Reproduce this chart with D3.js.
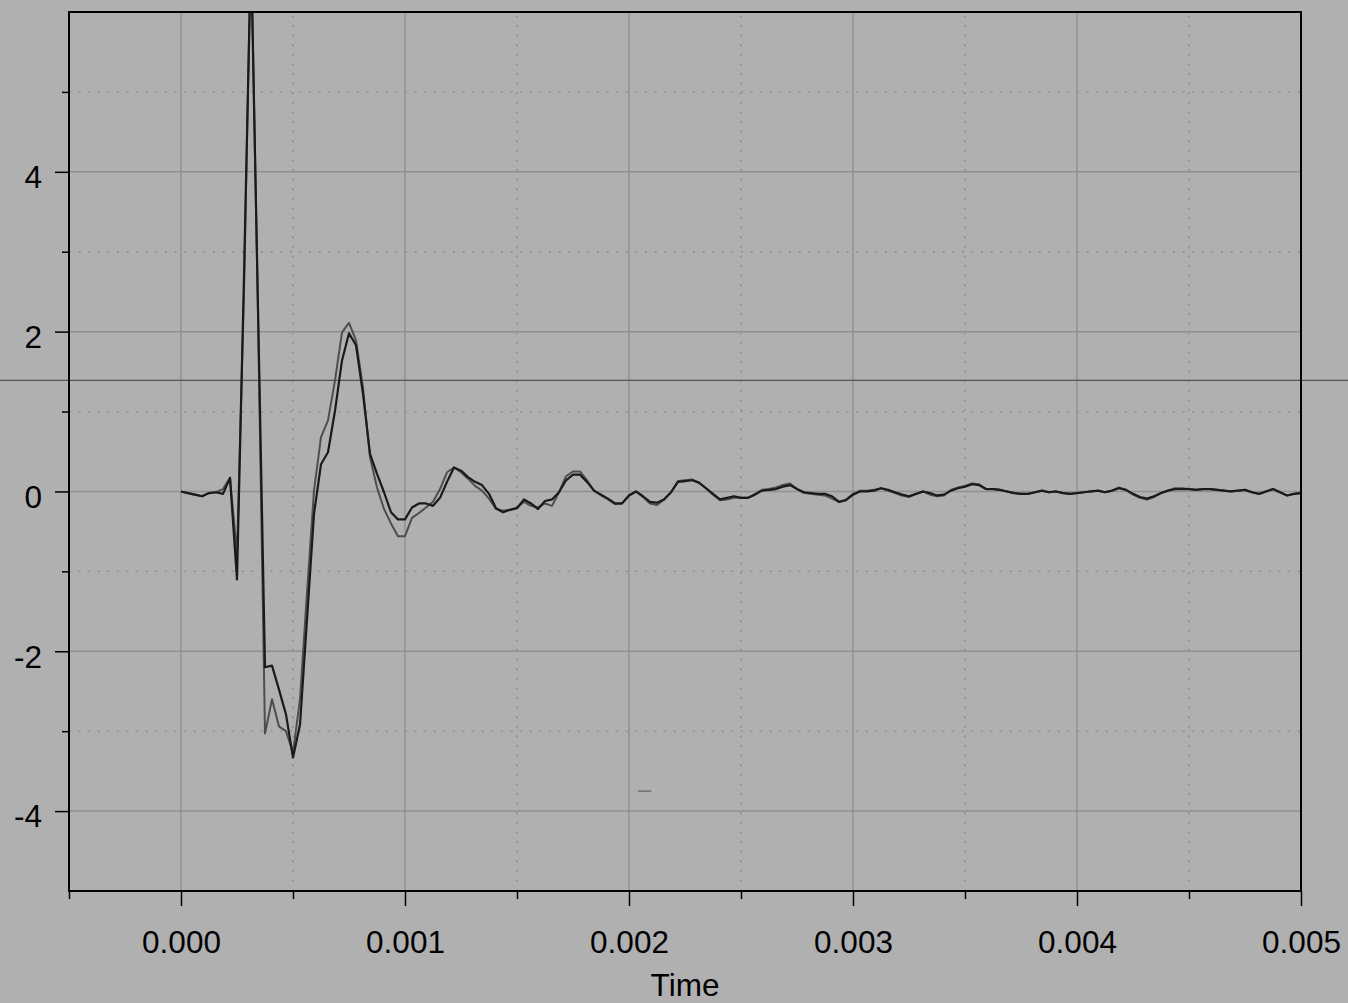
<!DOCTYPE html>
<html>
<head>
<meta charset="utf-8">
<script src="https://cdn.jsdelivr.net/npm/d3@7"></script>
<style>
  html, body { margin: 0; padding: 0; background: #b0b0b0; }
  svg { display: block; }
  text { font-family: "Liberation Sans", Arial, sans-serif; }
</style>
</head>
<body>
<svg id="chart" width="1348" height="1003"></svg>
<script>
// ---------------- data ----------------
const sampleRate = 32000;           // samples per second
const seriesBlack = [
  0.00, -0.02, -0.04, -0.06, -0.02, -0.01, -0.03, 0.17, -1.10, 2.70,
  6.80, 2.30, -2.20, -2.18, -2.48, -2.79, -3.33, -2.92, -1.60, -0.28,
  0.34, 0.49, 1.01, 1.64, 1.98, 1.83, 1.22, 0.47, 0.22, -0.01,
  -0.26, -0.35, -0.35, -0.20, -0.15, -0.15, -0.18, -0.08, 0.12, 0.30,
  0.26, 0.18, 0.12, 0.08, -0.03, -0.21, -0.26, -0.23, -0.21, -0.10,
  -0.15, -0.22, -0.12, -0.10, -0.01, 0.14, 0.21, 0.21, 0.12, 0.01,
  -0.04, -0.09, -0.15, -0.15, -0.05, 0.00, -0.06, -0.13, -0.14, -0.10,
  -0.01, 0.12, 0.13, 0.14, 0.11, 0.04, -0.03, -0.10, -0.08, -0.06,
  -0.08, -0.08, -0.04, 0.01, 0.02, 0.03, 0.06, 0.08, 0.03, -0.01,
  -0.02, -0.03, -0.03, -0.06, -0.13, -0.11, -0.04, 0.00, 0.00, 0.01,
  0.04, 0.02, -0.01, -0.04, -0.06, -0.03, 0.00, -0.02, -0.05, -0.04,
  0.01, 0.04, 0.06, 0.09, 0.08, 0.03, 0.03, 0.02, 0.00, -0.02,
  -0.03, -0.03, -0.01, 0.01, -0.01, 0.00, -0.02, -0.03, -0.02, -0.01,
  0.00, 0.01, -0.01, 0.01, 0.04, 0.02, -0.03, -0.07, -0.09, -0.06,
  -0.02, 0.01, 0.03, 0.03, 0.03, 0.02, 0.03, 0.03, 0.02, 0.01,
  0.00, 0.01, 0.02, -0.01, -0.03, 0.00, 0.03, -0.01, -0.05, -0.03,
  -0.02
];
const seriesGray = [
  0.00, -0.02, -0.04, -0.06, -0.02, -0.01, 0.03, 0.17, -0.78, 2.50,
  6.90, 2.20, -3.03, -2.60, -2.94, -3.00, -3.27, -2.60, -1.27, 0.01,
  0.68, 0.89, 1.39, 1.99, 2.11, 1.89, 1.30, 0.43, 0.05, -0.22,
  -0.40, -0.56, -0.56, -0.33, -0.27, -0.20, -0.13, 0.03, 0.24, 0.30,
  0.24, 0.16, 0.07, 0.01, -0.09, -0.22, -0.24, -0.23, -0.20, -0.13,
  -0.18, -0.20, -0.15, -0.18, -0.01, 0.19, 0.25, 0.25, 0.14, 0.01,
  -0.05, -0.10, -0.16, -0.15, -0.05, 0.00, -0.07, -0.15, -0.17, -0.10,
  -0.01, 0.13, 0.14, 0.15, 0.11, 0.04, -0.04, -0.11, -0.10, -0.08,
  -0.08, -0.08, -0.03, 0.02, 0.03, 0.05, 0.08, 0.10, 0.03, -0.02,
  -0.03, -0.04, -0.05, -0.09, -0.13, -0.10, -0.03, 0.01, 0.01, 0.02,
  0.04, 0.01, -0.02, -0.05, -0.07, -0.03, 0.00, -0.04, -0.06, -0.05,
  0.02, 0.05, 0.07, 0.10, 0.09, 0.03, 0.03, 0.02, 0.00, -0.02,
  -0.03, -0.03, -0.01, 0.01, -0.01, 0.00, -0.02, -0.03, -0.02, -0.01,
  0.00, 0.01, -0.01, 0.01, 0.05, 0.02, -0.04, -0.08, -0.10, -0.07,
  -0.02, 0.01, 0.04, 0.04, 0.03, 0.02, 0.03, 0.03, 0.02, 0.01,
  0.00, 0.01, 0.02, -0.01, -0.03, 0.00, 0.03, -0.01, -0.05, -0.03,
  -0.02
];
const xMajorTicks = [0.000, 0.001, 0.002, 0.003, 0.004, 0.005];
const xMinorTicks = [-0.0005, 0.0005, 0.0015, 0.0025, 0.0035, 0.0045];
const yMajorTicks = [-4, -2, 0, 2, 4];
const yMinorTicks = [-3, -1, 1, 3, 5];
const xDomain = [-0.0005, 0.005];
const yDomain = [-5, 6];
const referenceLevel = 1.39;
const markSegment = [[0.00204, -3.75], [0.00210, -3.75]];
const xTitle = "Time";

// ---------------- layout ----------------
const W = 1348, H = 1003;
const margin = {left: 69, right: 47, top: 12, bottom: 112};
const svg = d3.select("#chart");

svg.append("rect").attr("width", W).attr("height", H).attr("fill", "#b0b0b0");

const x = d3.scaleLinear().domain(xDomain).range([margin.left, W - margin.right]);
const y = d3.scaleLinear().domain(yDomain).range([H - margin.bottom, margin.top]);

const x0 = x.range()[0], x1 = x.range()[1], y0 = y.range()[0], y1 = y.range()[1];

// grid
const grid = svg.append("g");
grid.selectAll(".vmin").data(xMinorTicks.filter(d => d > xDomain[0])).join("line")
  .attr("x1", d => x(d)).attr("x2", d => x(d)).attr("y1", y0).attr("y2", y1)
  .attr("stroke", "#8a8a8a").attr("stroke-width", 1.3).attr("stroke-dasharray", "2,7.6");
grid.selectAll(".hmin").data(yMinorTicks).join("line")
  .attr("x1", x0).attr("x2", x1).attr("y1", d => y(d)).attr("y2", d => y(d))
  .attr("stroke", "#8a8a8a").attr("stroke-width", 1.3).attr("stroke-dasharray", "2,7.6");
grid.selectAll(".vmaj").data(xMajorTicks).join("line")
  .attr("x1", d => x(d)).attr("x2", d => x(d)).attr("y1", y0).attr("y2", y1)
  .attr("stroke", "#8a8a8a").attr("stroke-width", 1.2);
grid.selectAll(".hmaj").data(yMajorTicks).join("line")
  .attr("x1", x0).attr("x2", x1).attr("y1", d => y(d)).attr("y2", d => y(d))
  .attr("stroke", "#909090").attr("stroke-width", 1.5);

// reference line across the whole figure
svg.append("line")
  .attr("x1", 0).attr("x2", W)
  .attr("y1", y(referenceLevel)).attr("y2", y(referenceLevel))
  .attr("stroke", "#555555").attr("stroke-width", 1.2);

// small mark
svg.append("line")
  .attr("x1", x(markSegment[0][0])).attr("x2", x(markSegment[1][0]))
  .attr("y1", y(markSegment[0][1])).attr("y2", y(markSegment[1][1]))
  .attr("stroke", "#606060").attr("stroke-width", 1.2);

// series
svg.append("clipPath").attr("id", "clip").append("rect")
  .attr("x", x0).attr("y", y1).attr("width", x1 - x0).attr("height", y0 - y1);

const line = d3.line().x((d, i) => x(i / sampleRate)).y(d => y(d));
const plot = svg.append("g").attr("clip-path", "url(#clip)");
plot.append("path").datum(seriesGray).attr("d", line)
  .attr("fill", "none").attr("stroke", "#4e4e4e").attr("stroke-width", 2).attr("stroke-linejoin", "round");
plot.append("path").datum(seriesBlack).attr("d", line)
  .attr("fill", "none").attr("stroke", "#1a1a1a").attr("stroke-width", 2.2).attr("stroke-linejoin", "round");

// frame
svg.append("rect").attr("x", x0).attr("y", y1).attr("width", x1 - x0).attr("height", y0 - y1)
  .attr("fill", "none").attr("stroke", "#000").attr("stroke-width", 2);

// axes
const fontSize = 31.5;
const xAxisMaj = d3.axisBottom(x).tickValues(xMajorTicks).tickFormat(d3.format(".3f"))
  .tickSize(15).tickSizeOuter(0);
const gx = svg.append("g").attr("transform", `translate(0,${y0})`).call(xAxisMaj);
gx.select(".domain").remove();
gx.selectAll(".tick line").attr("stroke", "#000").attr("stroke-width", 1.5);
gx.selectAll(".tick text").attr("y", 62).attr("dy", null)
  .attr("fill", "#000").style("font-size", fontSize + "px")
  .style("font-family", "'Liberation Sans', Arial, sans-serif");

const xAxisMin = d3.axisBottom(x).tickValues(xMinorTicks).tickFormat("").tickSize(8).tickSizeOuter(0);
const gxm = svg.append("g").attr("transform", `translate(0,${y0})`).call(xAxisMin);
gxm.select(".domain").remove();
gxm.selectAll(".tick line").attr("stroke", "#000").attr("stroke-width", 1.5);

const yAxisMaj = d3.axisLeft(y).tickValues(yMajorTicks).tickFormat(d => String(d))
  .tickSize(14).tickPadding(13).tickSizeOuter(0);
const gy = svg.append("g").attr("transform", `translate(${x0},0)`).call(yAxisMaj);
gy.select(".domain").remove();
gy.selectAll(".tick line").attr("stroke", "#000").attr("stroke-width", 1.5);
gy.selectAll(".tick text").attr("dy", "0.5em")
  .attr("fill", "#000").style("font-size", fontSize + "px")
  .style("font-family", "'Liberation Sans', Arial, sans-serif");

const yAxisMin = d3.axisLeft(y).tickValues(yMinorTicks).tickFormat("").tickSize(7).tickSizeOuter(0);
const gym = svg.append("g").attr("transform", `translate(${x0},0)`).call(yAxisMin);
gym.select(".domain").remove();
gym.selectAll(".tick line").attr("stroke", "#000").attr("stroke-width", 1.5);

// x title
svg.append("text").attr("x", (x0 + x1) / 2).attr("y", 996)
  .attr("text-anchor", "middle").attr("fill", "#000")
  .style("font-size", fontSize + "px").text(xTitle);
</script>
</body>
</html>
